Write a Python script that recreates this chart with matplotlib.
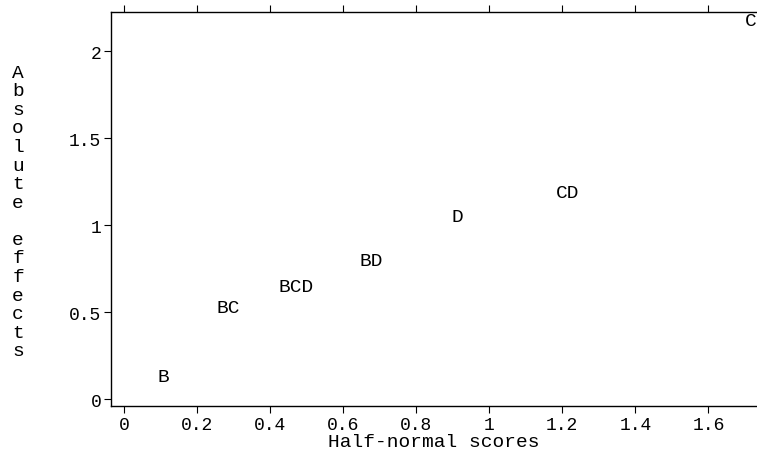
import matplotlib
matplotlib.use("Agg")
import matplotlib.pyplot as plt
from matplotlib.ticker import FuncFormatter

# effect labels, half-normal scores (x) and absolute effects (y)
effects = ["B", "BC", "BCD", "BD", "D", "CD", "C"]
scores = [0.107, 0.285, 0.471, 0.676, 0.912, 1.215, 1.716]
abs_effects = [0.132, 0.524, 0.65, 0.80, 1.053, 1.19, 2.18]

xticks = [0, 0.2, 0.4, 0.6, 0.8, 1, 1.2, 1.4, 1.6]
yticks = [0, 0.5, 1, 1.5, 2]

font = "Liberation Mono"
fs = 14
tfs = 13

fig = plt.figure(figsize=(7.57, 4.52), dpi=100)
ax = fig.add_axes([111 / 757, 1 - 407 / 452, 1 - 111 / 757, (407 - 13) / 452])

for lab, x, y in zip(effects, scores, abs_effects):
    ax.text(x, y, lab, ha="center", va="center", fontsize=fs, family=font)

ax.set_xlim(-0.0356, 1.733)
ax.set_ylim(-0.04, 2.227)
ax.spines["right"].set_visible(False)
for s in ["left", "top", "bottom"]:
    ax.spines[s].set_linewidth(1.0)

ax.set_xticks(xticks)
ax.set_yticks(yticks)
ax.xaxis.set_major_formatter(FuncFormatter(lambda v, p: "%g" % v))
ax.yaxis.set_major_formatter(FuncFormatter(lambda v, p: "%g" % v))
ax.tick_params(axis="x", top=True, direction="out", length=5, width=0.8, pad=2)
ax.tick_params(axis="y", direction="out", length=5, width=0.8, pad=2)
for t in ax.get_xticklabels() + ax.get_yticklabels():
    t.set_fontfamily(font)
    t.set_fontsize(tfs)

ax.set_xlabel("Half-normal scores", fontsize=fs, family=font, labelpad=0)

# vertical stacked y label
fig.text(18 / 757, 1 - 212.5 / 452, "\n".join(list("Absolute effects")),
         ha="center", va="center", fontsize=fs, family=font, linespacing=1.12)

fig.savefig("out.png", dpi=100)
